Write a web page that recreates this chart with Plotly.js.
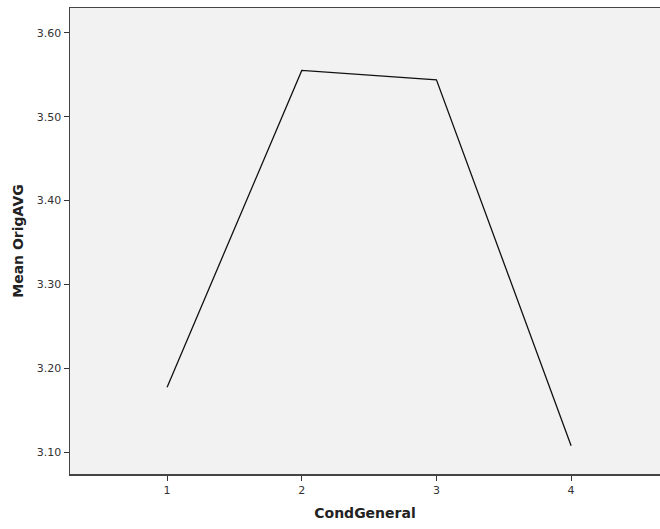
<!DOCTYPE html>
<html>
<head>
<meta charset="utf-8">
<script src="https://cdn.plot.ly/plotly-3.0.1.min.js"></script>
<style>html,body{margin:0;padding:0;background:#fff;}#chart{width:660px;height:529px;}</style>
</head>
<body>
<div id="chart"></div>
<script>
const categories = [1, 2, 3, 4];
const meanOrigAVG = [3.1774, 3.5551, 3.5440, 3.1075];
const yTicks = [3.10, 3.20, 3.30, 3.40, 3.50, 3.60];

const trace = {
  x: categories,
  y: meanOrigAVG,
  type: 'scatter',
  mode: 'lines',
  line: {color: '#111111', width: 1.3},
  hoverinfo: 'skip'
};

const layout = {
  width: 660,
  height: 529,
  margin: {l: 70, r: 0, t: 8, b: 55},
  paper_bgcolor: '#ffffff',
  plot_bgcolor: '#f2f2f2',
  showlegend: false,
  font: {family: 'DejaVu Sans, sans-serif', color: '#333333'},
  xaxis: {
    range: [0.279, 4.66],
    tickvals: categories,
    ticktext: categories.map(String),
    ticks: 'outside',
    ticklen: 5,
    tickwidth: 1,
    tickcolor: '#333333',
    showgrid: false,
    zeroline: false,
    showline: true,
    linecolor: '#444444',
    linewidth: 1.5,
    mirror: true,
    tickfont: {size: 11, color: '#333333'},
    title: {text: 'CondGeneral', font: {size: 14, color: '#222222', family: 'DejaVu Sans, sans-serif', weight: 'bold'}, standoff: 12}
  },
  yaxis: {
    range: [3.0738, 3.6296],
    tickvals: yTicks,
    ticktext: yTicks.map(v => v.toFixed(2)),
    ticks: 'outside',
    ticklen: 5,
    tickwidth: 1,
    tickcolor: '#333333',
    showgrid: false,
    zeroline: false,
    showline: true,
    linecolor: '#444444',
    linewidth: 1.5,
    mirror: false,
    tickfont: {size: 11, color: '#333333'},
    title: {text: 'Mean OrigAVG', font: {size: 14, color: '#222222', family: 'DejaVu Sans, sans-serif', weight: 'bold'}, standoff: 10}
  }
};

Plotly.newPlot('chart', [trace], layout, {displayModeBar: false, staticPlot: true});
</script>
</body>
</html>
